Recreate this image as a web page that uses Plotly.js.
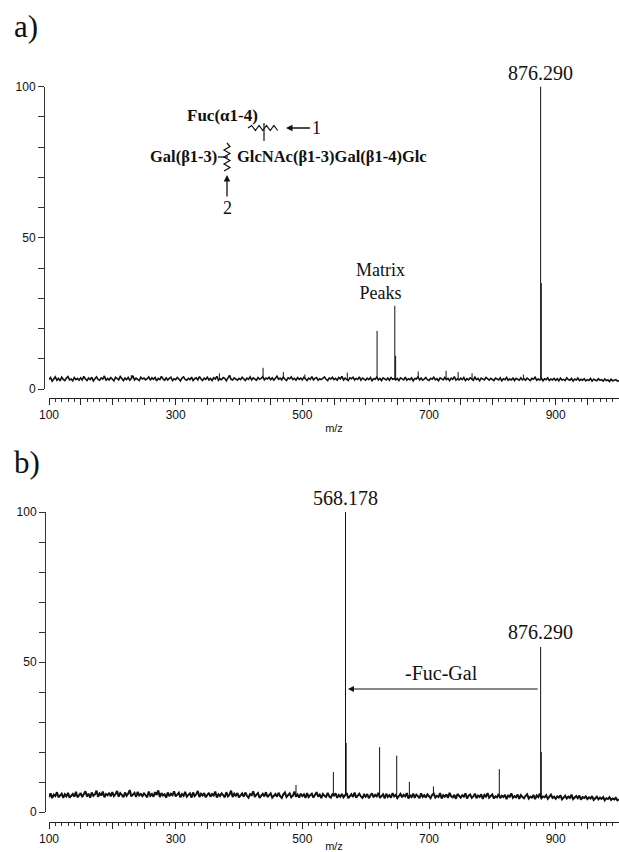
<!DOCTYPE html>
<html><head><meta charset="utf-8">
<script src="https://cdn.plot.ly/plotly-3.0.1.min.js"></script>
<style>html,body{margin:0;padding:0;background:#fff}</style>
</head><body><div id="chart" style="width:619px;height:852px"></div>
<script>
// ---- data ----
const mzStart = 100, mzStep = 2.5;   // baseline sampling grid (m/z)
// panel a) baseline intensity (% relative), m/z 100..1000 every 2.5 (one row = 50 m/z)
const baselineA = [
3.1,3.8,2.6,3.4,4.0,2.9,3.5,2.7,3.9,3.2,2.8,3.6,4.1,3.0,3.3,2.7,3.8,3.1,3.5,2.9,
3.7,3.0,4.2,3.3,2.8,3.6,3.1,3.9,2.7,3.4,4.0,3.2,2.9,3.7,3.3,4.3,2.8,3.5,3.0,3.8,
3.2,2.7,3.9,3.4,3.0,4.1,3.3,2.8,3.6,3.1,3.8,2.9,3.5,4.4,3.0,3.6,3.2,2.8,3.9,3.3,
3.6,3.0,3.4,4.0,2.9,3.7,3.2,3.8,2.7,3.5,3.1,4.2,3.3,2.9,3.7,3.0,3.5,3.9,2.8,3.4,
3.1,3.8,3.3,2.7,3.6,4.0,3.2,2.9,3.5,3.1,3.9,2.8,3.4,3.7,3.0,4.1,3.3,2.8,3.6,3.2,
3.9,3.0,3.5,2.8,3.7,3.3,4.2,2.9,3.4,3.1,3.8,3.5,2.7,3.6,4.5,3.2,3.0,3.7,3.4,2.9,
3.5,3.1,3.9,3.3,2.8,3.6,3.2,4.0,3.0,3.7,3.4,2.9,3.8,3.2,3.5,4.1,3.0,3.6,3.3,3.9,
3.1,3.7,2.9,3.5,4.2,3.2,3.6,3.0,3.9,3.3,2.8,3.7,3.4,4.0,3.1,3.5,2.9,3.8,3.2,3.6,
3.0,3.9,3.3,2.8,3.6,3.2,4.1,3.0,3.5,3.8,2.9,3.4,3.1,3.7,4.0,3.2,2.8,3.6,3.3,3.9,
3.1,3.5,2.9,3.8,3.3,4.2,3.0,3.6,3.2,2.8,3.7,3.4,3.9,3.0,3.5,3.2,4.0,2.9,3.6,3.3,
2.9,3.6,3.1,3.8,2.7,3.4,3.2,3.9,3.0,3.5,2.8,3.7,3.3,3.0,3.6,2.9,3.8,3.2,3.4,3.0,
3.5,2.8,3.7,3.2,3.0,3.9,2.9,3.4,3.1,3.7,2.7,3.5,3.3,4.0,3.0,3.6,2.9,3.3,3.8,3.1,
2.8,3.5,3.2,3.9,3.0,3.4,2.7,3.7,3.3,3.0,3.8,3.1,3.5,2.8,3.6,3.2,4.1,2.9,3.4,3.0,
3.6,3.1,3.8,2.8,3.4,3.0,3.7,3.3,2.9,3.9,3.1,3.5,2.7,3.6,3.2,3.0,3.8,3.3,2.9,3.5,
3.1,2.8,3.6,3.2,3.0,3.7,2.7,3.4,3.1,3.8,2.9,3.3,3.0,3.6,2.8,3.5,3.2,2.9,3.7,3.0,
3.4,2.9,3.6,3.1,2.8,3.5,3.2,3.9,2.9,3.3,3.0,3.6,2.7,3.4,3.1,3.7,2.8,3.3,3.0,3.5,
2.9,3.4,2.7,3.6,3.0,3.2,2.8,3.7,3.1,2.9,3.5,2.6,3.3,3.0,3.6,2.8,3.2,2.9,3.4,2.7,
3.1,2.8,3.5,2.6,3.2,3.0,2.7,3.4,2.9,3.1,2.6,3.3,2.8,3.0,2.5,3.2,2.7,2.9,3.1,2.6,
2.8];
const peakMzA  = [230, 369, 438, 470, 504, 571, 618, 646, 647.3, 683, 727, 746, 768, 849, 876.29, 877.3];
const peakIntA = [4.6, 5.2, 7.0, 5.6, 4.8, 5.4, 19.2, 27.5, 11.0, 5.8, 6.0, 5.6, 5.2, 4.8, 100, 35];

// panel b) baseline intensity
const baselineB = [
5.0,6.2,4.6,5.8,5.3,6.6,4.9,5.5,6.1,4.7,5.9,5.2,6.4,4.8,5.6,6.0,5.1,6.7,4.9,5.7,
6.3,5.0,5.8,6.9,5.2,6.1,4.8,6.5,5.4,5.9,7.1,5.1,6.2,5.5,6.8,4.9,6.0,5.6,6.4,5.2,
6.6,5.3,5.9,7.0,5.1,6.3,5.7,4.9,6.5,5.4,6.1,7.3,5.2,5.8,6.4,5.0,6.7,5.5,6.0,5.3,
6.2,5.6,4.9,6.8,5.4,6.0,5.1,6.6,5.7,7.2,5.0,6.3,5.5,5.9,4.8,6.5,5.3,6.1,5.6,6.9,
5.2,5.8,6.4,4.9,6.0,5.4,6.7,5.1,5.7,6.2,4.8,6.5,5.3,5.9,7.0,5.0,6.1,5.5,6.3,4.9,
5.7,6.4,5.1,6.0,5.5,6.8,4.8,5.9,5.3,6.2,5.6,4.9,6.6,5.2,5.8,7.1,5.0,6.1,5.4,6.3,
4.9,5.7,6.2,5.1,6.5,5.4,4.8,6.0,5.6,6.9,5.0,5.8,6.3,4.7,5.5,6.1,5.2,6.6,5.0,5.7,
6.2,4.8,5.6,6.0,5.1,6.4,5.3,4.7,5.9,6.5,5.0,5.7,6.2,4.9,5.4,6.8,5.1,5.8,4.8,6.1,
5.3,5.9,4.7,6.3,5.0,5.6,6.1,4.8,5.5,6.6,5.1,5.8,4.6,6.0,5.4,5.0,6.4,5.2,4.8,5.9,
5.5,6.2,4.7,5.7,5.1,6.0,4.9,5.6,6.3,4.6,5.4,5.9,5.0,6.5,4.8,5.5,6.1,5.2,4.7,5.8,
5.1,6.0,4.6,5.5,6.2,4.9,5.7,5.2,6.4,4.7,5.3,5.9,4.5,6.1,5.0,5.6,4.8,6.3,5.2,5.7,
4.6,5.4,6.0,4.9,5.7,5.2,6.3,4.5,5.5,5.0,6.1,4.7,5.8,5.3,4.6,6.2,5.0,5.6,4.8,5.9,
5.2,4.6,5.7,6.1,4.8,5.4,5.0,6.3,4.5,5.6,5.1,5.9,4.7,6.4,5.2,4.9,5.7,4.4,6.0,5.3,
4.8,5.6,5.1,6.2,4.5,5.4,5.8,4.7,5.2,6.1,4.6,5.5,5.0,5.9,4.4,5.7,5.1,6.3,4.8,5.3,
5.8,4.5,5.2,4.9,6.0,4.6,5.4,5.0,5.7,4.3,5.5,5.1,6.2,4.7,5.3,4.9,5.8,4.4,5.6,5.0,
4.6,5.4,5.9,4.5,5.1,4.8,5.7,4.3,5.5,5.0,6.1,4.6,5.2,4.9,5.6,4.4,5.3,5.8,4.7,5.1,
4.4,5.2,4.8,5.6,4.2,5.0,5.4,4.5,5.1,4.7,5.8,4.3,4.9,5.3,4.6,5.5,4.1,5.0,4.7,5.2,
4.3,4.9,4.5,5.3,4.0,4.7,5.1,4.2,4.8,4.4,5.0,3.9,4.6,4.3,4.9,4.0,4.5,4.2,4.7,3.9,
4.2];
const peakMzB  = [490, 549, 568.178, 569.2, 622, 649, 669, 707, 811, 876.29, 877.3];
const peakIntB = [9.0, 13.3, 100, 23, 21.6, 18.8, 10.0, 8.5, 14.3, 55, 20];

const xLabelVals = [100, 300, 500, 700, 900];
const yLabelVals = [0, 50, 100];

// ---- helpers ----
const W = 619, H = 852;
const px = v => v / W, py = v => 1 - v / H;
function baseGrid(arr){ return arr.map((_, i) => mzStart + i * mzStep); }
function peakSegments(mz, inten, base){
  const xs = [], ys = [];
  mz.forEach((m, i) => {
    const b = base[Math.min(base.length - 1, Math.round((m - mzStart) / mzStep))];
    xs.push(m, m, null); ys.push(b, inten[i], null);
  });
  return {xs, ys};
}
const pkA = peakSegments(peakMzA, peakIntA, baselineA);
const pkB = peakSegments(peakMzB, peakIntB, baselineB);

const lineStyle = {color: '#111', width: 1};
const traces = [
  {x: baseGrid(baselineA), y: baselineA, type: 'scatter', mode: 'lines', line: {color:'#111', width:1.6}, xaxis:'x', yaxis:'y', hoverinfo:'skip'},
  {x: pkA.xs, y: pkA.ys, type: 'scatter', mode: 'lines', line: lineStyle, xaxis:'x', yaxis:'y', connectgaps:false, hoverinfo:'skip'},
  {x: baseGrid(baselineB), y: baselineB, type: 'scatter', mode: 'lines', line: {color:'#111', width:2}, xaxis:'x2', yaxis:'y2', hoverinfo:'skip'},
  {x: pkB.xs, y: pkB.ys, type: 'scatter', mode: 'lines', line: lineStyle, xaxis:'x2', yaxis:'y2', connectgaps:false, hoverinfo:'skip'}
];

const majorX = []; for (let v = 100; v <= 1000; v += 50) majorX.push(v);
const majorXText = majorX.map(v => xLabelVals.includes(v) ? String(v) : '');
const yTicks = []; for (let v = 0; v <= 100; v += 10) yTicks.push(v);
const yTickText = yTicks.map(v => yLabelVals.includes(v) ? String(v) : '');

const sans = 'Liberation Sans, Arial, sans-serif';
const serif = 'Liberation Serif, Times New Roman, serif';

function xAxis(pos){
  return {
    domain: [px(49), 1], range: [100, 1000], anchor: 'free', position: pos,
    showline: true, linecolor: '#222', linewidth: 1, showgrid: false, zeroline: false,
    tickmode: 'array', tickvals: majorX, ticktext: majorXText,
    ticks: 'outside', ticklen: 6, tickwidth: 1, tickcolor: '#222',
    minor: {tickmode: 'linear', tick0: 100, dtick: 10, ticks: 'outside', ticklen: 3, tickcolor: '#333', tickwidth: 1},
    tickfont: {family: sans, size: 12, color: '#111'},
    title: {text: 'm/z', font: {family: sans, size: 11, color: '#111'}, standoff: 2}
  };
}
function yAxis(dom, pos){
  return {
    domain: dom, range: [0, 100], anchor: 'free', position: pos,
    showline: true, linecolor: '#333', linewidth: 1, showgrid: false, zeroline: false,
    tickmode: 'array', tickvals: yTicks, ticktext: yTickText,
    ticks: 'outside', ticklen: 6, tickwidth: 1, tickcolor: '#333',
    tickfont: {family: sans, size: 12, color: '#111'}
  };
}

// wavy decorations of the glycan drawing
function zigV(x, y0, y1, amp, step){
  let d = `M${px(x)},${py(y0)}`; let s = 1;
  for (let y = y0 + step; y <= y1; y += step){ d += ` L${px(x + s*amp)},${py(y)}`; s = -s; }
  return d;
}
function zigH(y, x0, x1, amp, step){
  let d = `M${px(x0)},${py(y)}`; let s = -1;
  for (let x = x0 + step; x <= x1; x += step){ d += ` L${px(x)},${py(y + s*amp)}`; s = -s; }
  return d;
}
const shapes = [
  {type:'path', xref:'paper', yref:'paper', path: zigV(227, 143, 171, 3, 3.5), line:{color:'#111', width:1.2}},
  {type:'line', xref:'paper', yref:'paper', x0:px(218), x1:px(228), y0:py(157), y1:py(157), line:{color:'#111', width:1.3}},
  {type:'path', xref:'paper', yref:'paper', path: zigH(128, 248, 281, 2.5, 3.7), line:{color:'#111', width:1.2}},
  {type:'line', xref:'paper', yref:'paper', x0:px(264), x1:px(264), y0:py(123), y1:py(141), line:{color:'#111', width:1.2}}
];

const ann = (o) => Object.assign({showarrow:false, font:{family:serif, size:20, color:'#111'}}, o);
const annotations = [
  ann({text:'a)', xref:'paper', yref:'paper', x:px(12), y:py(27), xanchor:'left', yanchor:'middle', font:{family:serif, size:31, color:'#111'}}),
  ann({text:'b)', xref:'paper', yref:'paper', x:px(12), y:py(462), xanchor:'left', yanchor:'middle', font:{family:serif, size:31, color:'#111'}}),
  ann({text:'876.290', xref:'x', yref:'y', x:876.29, y:100, xanchor:'center', yanchor:'bottom', yshift:1}),
  ann({text:'Matrix<br>Peaks', xref:'x', yref:'y', x:624, y:35.5, xanchor:'center', yanchor:'middle', font:{family:serif, size:18, color:'#111'}}),
  ann({text:'<b>Fuc(α1-4)</b>', xref:'paper', yref:'paper', x:px(185), y:py(116), xanchor:'left', yanchor:'middle', font:{family:serif, size:17, color:'#111'}}),
  ann({text:'<b>Gal(β1-3)</b>', xref:'paper', yref:'paper', x:px(219), y:py(157), xanchor:'right', yanchor:'middle', font:{family:serif, size:16.5, color:'#111'}}),
  ann({text:'<b>GlcNAc(β1-3)Gal(β1-4)Glc</b>', xref:'paper', yref:'paper', x:px(235), y:py(157), xanchor:'left', yanchor:'middle', font:{family:serif, size:16.5, color:'#111'}}),
  {text:'1', xref:'paper', yref:'paper', x:px(286), y:py(128), ax:30, ay:0, showarrow:true, arrowhead:2, arrowsize:1, arrowwidth:1.3, arrowcolor:'#111', font:{family:serif, size:18, color:'#111'}},
  {text:'2', xref:'paper', yref:'paper', x:px(227), y:py(175), ax:0, ay:33, showarrow:true, arrowhead:2, arrowsize:1, arrowwidth:1.3, arrowcolor:'#111', font:{family:serif, size:18, color:'#111'}},
  ann({text:'568.178', xref:'x2', yref:'y2', x:568.178, y:100, xanchor:'center', yanchor:'bottom', yshift:1}),
  ann({text:'876.290', xref:'x2', yref:'y2', x:876.29, y:55, xanchor:'center', yanchor:'bottom', yshift:2}),
  ann({text:'-Fuc-Gal', xref:'x2', yref:'y2', x:720, y:46.5, xanchor:'center', yanchor:'middle'}),
  {text:'', xref:'x2', yref:'y2', axref:'x2', ayref:'y2', x:572, y:41, ax:874, ay:41, showarrow:true, arrowhead:2, arrowsize:1, arrowwidth:1.2, arrowcolor:'#111', standoff:0}
];

const layout = {
  width: W, height: H, margin: {l:0, r:0, t:0, b:0},
  paper_bgcolor: '#fff', plot_bgcolor: '#fff', showlegend: false,
  xaxis: xAxis(py(398)),
  yaxis: yAxis([py(389), py(86.5)], px(44)),
  xaxis2: xAxis(py(822)),
  yaxis2: yAxis([py(812), py(512)], px(45)),
  shapes, annotations
};
Plotly.newPlot('chart', traces, layout, {staticPlot: true, displayModeBar: false});
</script></body></html>
